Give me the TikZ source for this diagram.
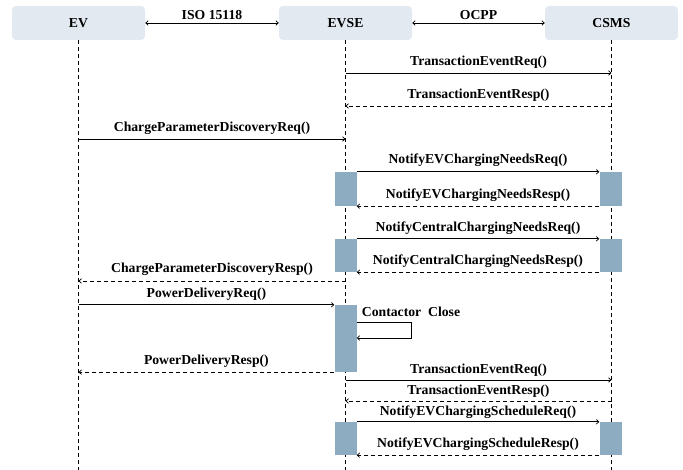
\documentclass[tikz,border=0pt]{standalone}
\usepackage{fontspec}
\setmainfont{Liberation Serif}
\newfontfamily\tnrb{Liberation Serif Bold}
\usetikzlibrary{arrows.meta}
\definecolor{hdrfill}{HTML}{E3E9F0}
\definecolor{actfill}{HTML}{8DACC2}
\begin{document}
\begin{tikzpicture}[x=1pt,y=-1pt,
  lbl/.style={font=\fontsize{13.7}{15}\tnrb, inner sep=0pt},
  hdr/.style={fill=hdrfill, rounded corners=4pt, minimum width=133pt, minimum height=34pt, inner sep=0pt, font=\fontsize{13.7}{15}\tnrb},
  act/.style={fill=actfill, minimum width=22pt, inner sep=0pt},
  life/.style={line width=0.6pt, dash pattern=on 4pt off 3pt},
  msg/.style={line width=0.7pt, -{Straight Barb[length=2.5pt,width=4.5pt]}},
  rsp/.style={msg, dash pattern=on 4pt off 3pt},
  both/.style={line width=0.7pt, {Straight Barb[length=2.5pt,width=4.5pt]}-{Straight Barb[length=2.5pt,width=4.5pt]}}]
\useasboundingbox (0,0) rectangle (683,470);

% headers
\node[hdr] (ev) at (78.5,23) {EV};
\node[hdr] (evse) at (345.5,23) {EVSE};
\node[hdr] (csms) at (611.5,23) {CSMS};
\draw[both] (ev.east) -- node[lbl, midway, yshift=8pt] {ISO 15118} (evse.west);
\draw[both] (evse.east) -- node[lbl, midway, yshift=8pt] {OCPP} (csms.west);

% bottom coordinate and lifelines
\coordinate (bot) at (0,470);
\draw[life] (ev.south) -- (ev.south |- bot);
\draw[life] (evse.south) -- (evse.south |- bot);
\draw[life] (csms.south) -- (csms.south |- bot);

% activation boxes
\node[act, minimum height=34pt] (e1) at (345.5,189) {};
\node[act, minimum height=34pt] (c1) at (610.5,189) {};
\node[act, minimum height=33pt] (e2) at (345.5,255.5) {};
\node[act, minimum height=33pt] (c2) at (610.5,255.5) {};
\node[act, minimum height=67pt] (e3) at (345.5,338.5) {};
\node[act, minimum height=33pt] (e4) at (345.5,438.5) {};
\node[act, minimum height=33pt] (c4) at (610.5,438.5) {};

% row coordinates
\coordinate (r1) at (0,73);
\coordinate (r2) at (0,106);
\coordinate (r3) at (0,139);
\coordinate (r8) at (0,281);
\coordinate (r12) at (0,380);
\coordinate (r13) at (0,401);
\coordinate (k1) at (0,322);
\coordinate (k2) at (0,338);
\coordinate (kx) at (411,0);

% messages
\draw[msg] (evse.south |- r1) -- node[lbl, midway, yshift=11pt] {TransactionEventReq()} (csms.south |- r1);
\draw[rsp] (csms.south |- r2) -- node[lbl, midway, yshift=11pt] {TransactionEventResp()} (evse.south |- r2);
\draw[msg] (ev.south |- r3) -- node[lbl, midway, yshift=11pt] {ChargeParameterDiscoveryReq()} (evse.south |- r3);
\draw[msg] (e1.north east) -- node[lbl, midway, yshift=11.5pt] {NotifyEVChargingNeedsReq()} (c1.north west);
\draw[rsp] (c1.south west) -- node[lbl, midway, yshift=11.5pt] {NotifyEVChargingNeedsResp()} (e1.south east);
\draw[msg] (e2.north east) -- node[lbl, midway, yshift=10.5pt] {NotifyCentralChargingNeedsReq()} (c2.north west);
\draw[rsp] (c2.south west) -- node[lbl, midway, yshift=11pt] {NotifyCentralChargingNeedsResp()} (e2.south east);
\draw[rsp] (evse.south |- r8) -- node[lbl, midway, yshift=11.5pt] {ChargeParameterDiscoveryResp()} (ev.south |- r8);
\draw[msg] (ev.south |- e3.north) -- node[lbl, midway, yshift=10.5pt] {PowerDeliveryReq()} (e3.north west);
\draw[msg] (e3.east |- k1) -- (kx |- k1) -- (kx |- k2) -- (e3.east |- k2);
\node[lbl] (cc) at (411,312) {Contactor\ \ Close};
\draw[rsp] (e3.south west) -- node[lbl, midway, yshift=11pt] {PowerDeliveryResp()} (ev.south |- e3.south);
\draw[msg] (evse.south |- r12) -- node[lbl, midway, yshift=10pt] {TransactionEventReq()} (csms.south |- r12);
\draw[rsp] (csms.south |- r13) -- node[lbl, midway, yshift=10pt] {TransactionEventResp()} (evse.south |- r13);
\draw[msg] (e4.north east) -- node[lbl, midway, yshift=9.5pt] {NotifyEVChargingScheduleReq()} (c4.north west);
\draw[rsp] (c4.south west) -- node[lbl, midway, yshift=11pt] {NotifyEVChargingScheduleResp()} (e4.south east);
\end{tikzpicture}
\end{document}
